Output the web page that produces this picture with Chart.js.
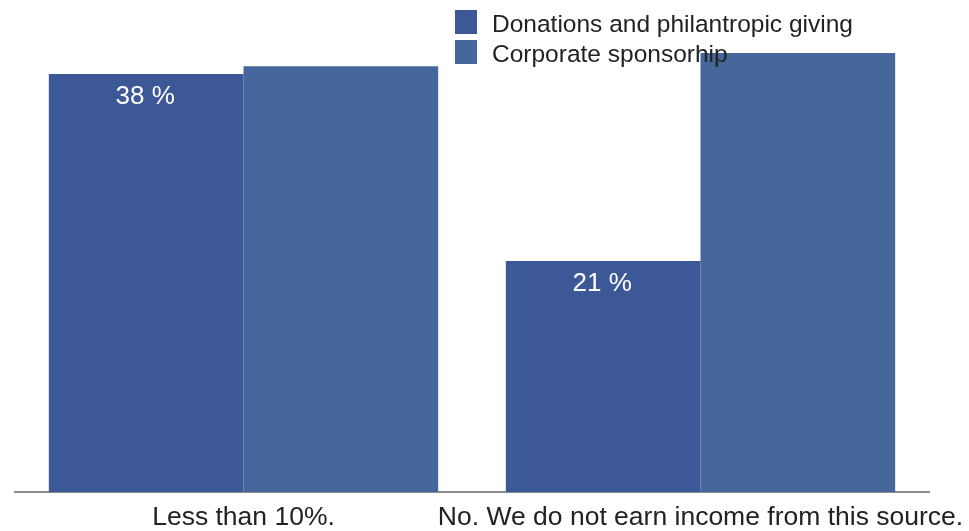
<!DOCTYPE html>
<html>
<head>
<meta charset="utf-8">
<script src="https://cdn.jsdelivr.net/npm/chart.js@4.4.1/dist/chart.umd.min.js"></script>
<style>
  html, body { margin: 0; padding: 0; background: #ffffff; }
  #wrap { width: 969px; height: 531px; position: relative; }
</style>
</head>
<body>
<div id="wrap"><canvas id="chart"></canvas></div>
<script>
// Share of income by source
const categories = ['Less than 10%.', 'No. We do not earn income from this source.'];
const seriesNames = ['Donations and philantropic giving', 'Corporate sponsorhip'];
const donations = [38, 21];
const corporate = [38.7, 39.9];
const seriesColors = ['#3c5897', '#46679b'];
// Only the first series carries value labels
const labelledSeries = [0];

const FONT = '"Liberation Sans", Arial, sans-serif';

// Value labels inside the top of each bar
const valueLabels = {
  id: 'valueLabels',
  afterDatasetsDraw(chart) {
    const ctx = chart.ctx;
    ctx.save();
    ctx.font = '26px ' + FONT;
    ctx.fillStyle = '#ffffff';
    ctx.textAlign = 'center';
    ctx.textBaseline = 'middle';
    labelledSeries.forEach(di => {
      const meta = chart.getDatasetMeta(di);
      meta.data.forEach((bar, i) => {
        const v = chart.data.datasets[di].data[i];
        ctx.fillText(v + ' %', bar.x - 1, bar.y + 23);
      });
    });
    ctx.restore();
  }
};

// Legend drawn on top of the plot, upper right
const overlayLegend = {
  id: 'overlayLegend',
  afterDatasetsDraw(chart) {
    const ctx = chart.ctx;
    ctx.save();
    ctx.font = '24.5px ' + FONT;
    ctx.textAlign = 'left';
    ctx.textBaseline = 'middle';
    const boxX = 455, boxW = 22, boxH = 24, top = 10, step = 30;
    chart.data.datasets.forEach((ds, i) => {
      const y = top + i * step;
      ctx.fillStyle = ds.backgroundColor;
      ctx.fillRect(boxX, y, boxW, boxH);
      ctx.fillStyle = '#222222';
      ctx.fillText(ds.label, 492, y + boxH / 2 + 3);
    });
    ctx.restore();
  }
};

new Chart(document.getElementById('chart'), {
  type: 'bar',
  data: {
    labels: categories,
    datasets: [
      { label: seriesNames[0], data: donations, backgroundColor: seriesColors[0] },
      { label: seriesNames[1], data: corporate, backgroundColor: seriesColors[1] }
    ]
  },
  options: {
    responsive: true,
    maintainAspectRatio: false,
    animation: false,
    events: [],
    layout: { padding: { top: 8, left: 15, right: 40, bottom: 0 } },
    datasets: {
      bar: { categoryPercentage: 0.852, barPercentage: 1.0, borderWidth: 0 }
    },
    plugins: {
      legend: { display: false },
      tooltip: { enabled: false }
    },
    scales: {
      x: {
        grid: { display: false, drawTicks: false },
        border: { display: true, color: '#8a8a8a', width: 2 },
        ticks: {
          color: '#222222',
          font: { family: FONT, size: 26.5 },
          maxRotation: 0,
          minRotation: 0,
          autoSkip: false,
          padding: 10
        },
        afterFit(scale) {
          scale.height = 39;
          scale.paddingLeft = 0;
          scale.paddingRight = 0;
        }
      },
      y: {
        display: false,
        min: 0,
        max: 44
      }
    }
  },
  plugins: [valueLabels, overlayLegend]
});
</script>
</body>
</html>
